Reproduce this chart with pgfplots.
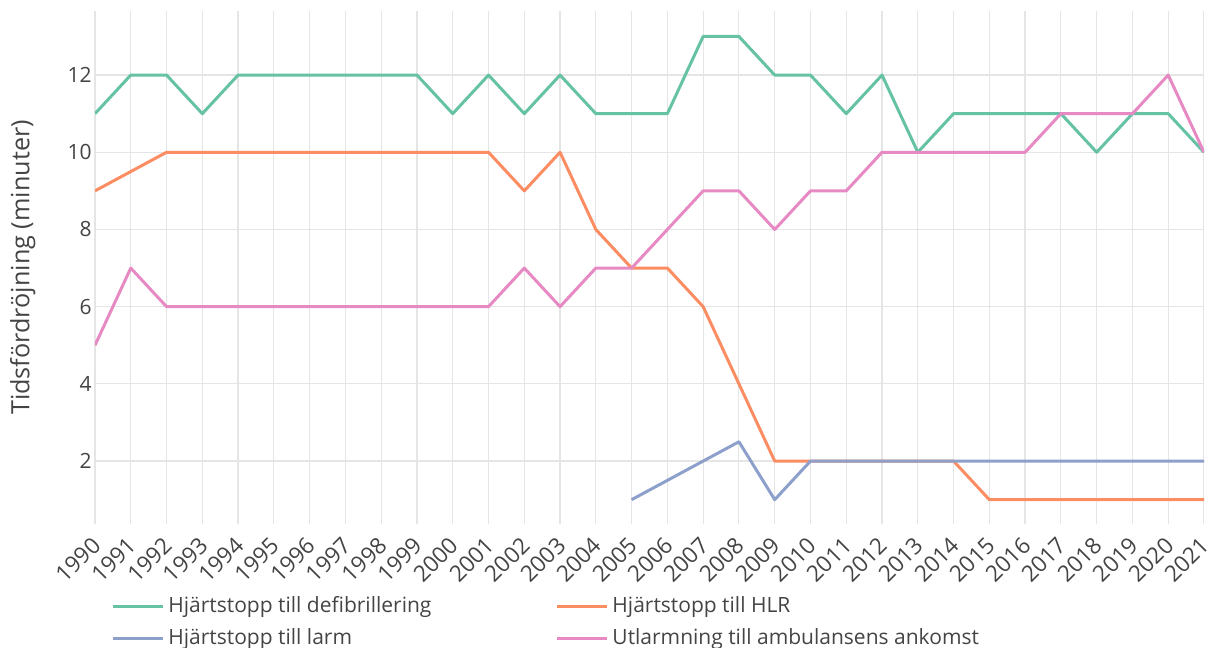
\documentclass[border=0pt]{standalone}
\usepackage{pgfplots}
\pgfplotsset{compat=1.18}
\usepackage{fontspec}
\setmainfont{Open Sans}
\definecolor{cg}{HTML}{66C2A5}
\definecolor{co}{HTML}{FC8D62}
\definecolor{cb}{HTML}{8DA0CB}
\definecolor{cp}{HTML}{E78AC3}
\definecolor{txt}{HTML}{444444}
\definecolor{grd}{HTML}{E5E5E5}
\begin{document}
\begin{tikzpicture}
\path[use as bounding box] (0,0) rectangle (605.5pt,324pt);
\begin{axis}[
  at={(47.5pt,62pt)}, anchor=south west,
  scale only axis, width=554.5pt, height=256.5pt,
  xmin=1990, xmax=2021, ymin=0.37, ymax=13.66,
  axis line style={draw=none}, major tick length=0pt,
  xtick={1990,...,2021}, ytick={2,4,...,12},
  grid=major, major grid style={grd, line width=0.6pt},
  x tick label style={/pgf/number format/1000 sep={}, rotate=45, anchor=east, font=\fontsize{11.3}{12}\selectfont, text=txt, inner sep=0.5pt, yshift=-6.7pt, xshift=-5pt},
  y tick label style={font=\fontsize{10.5}{12}\selectfont, text=txt, inner sep=1.5pt},
  /pgf/number format/assume math mode=true,
  ylabel={Tidsfördröjning (minuter)},
  ylabel style={font=\fontsize{12.6}{14}\selectfont, text=txt, yshift=11pt},
  every axis plot/.append style={line width=1.5pt, mark=none, line join=round},
  legend columns=2,
  legend cell align=left,
  legend style={at={(0.009,-0.125)}, anchor=north west, draw=none, fill=none,
    font=\fontsize{10.5}{12}\selectfont, text=txt, row sep=2.5pt,
    /tikz/every even column/.append style={column sep=60pt}},
  legend image code/.code={\draw[#1] (0pt,0pt) -- (25pt,0pt);},
]
\addplot[cg] coordinates {(1990,11)(1991,12)(1992,12)(1993,11)(1994,12)(1995,12)(1996,12)(1997,12)(1998,12)(1999,12)(2000,11)(2001,12)(2002,11)(2003,12)(2004,11)(2005,11)(2006,11)(2007,13)(2008,13)(2009,12)(2010,12)(2011,11)(2012,12)(2013,10)(2014,11)(2015,11)(2016,11)(2017,11)(2018,10)(2019,11)(2020,11)(2021,10)};
\addlegendentry{Hjärtstopp till defibrillering}
\addplot[co] coordinates {(1990,9)(1991,9.5)(1992,10)(1993,10)(1994,10)(1995,10)(1996,10)(1997,10)(1998,10)(1999,10)(2000,10)(2001,10)(2002,9)(2003,10)(2004,8)(2005,7)(2006,7)(2007,6)(2008,4)(2009,2)(2010,2)(2011,2)(2012,2)(2013,2)(2014,2)(2015,1)(2016,1)(2017,1)(2018,1)(2019,1)(2020,1)(2021,1)};
\addlegendentry{Hjärtstopp till HLR}
\addplot[cb] coordinates {(2005,1)(2006,1.5)(2007,2)(2008,2.5)(2009,1)(2010,2)(2011,2)(2012,2)(2013,2)(2014,2)(2015,2)(2016,2)(2017,2)(2018,2)(2019,2)(2020,2)(2021,2)};
\addlegendentry{Hjärtstopp till larm}
\addplot[cp] coordinates {(1990,5)(1991,7)(1992,6)(1993,6)(1994,6)(1995,6)(1996,6)(1997,6)(1998,6)(1999,6)(2000,6)(2001,6)(2002,7)(2003,6)(2004,7)(2005,7)(2006,8)(2007,9)(2008,9)(2009,8)(2010,9)(2011,9)(2012,10)(2013,10)(2014,10)(2015,10)(2016,10)(2017,11)(2018,11)(2019,11)(2020,12)(2021,10)};
\addlegendentry{Utlarmning till ambulansens ankomst}
\end{axis}
\end{tikzpicture}
\end{document}
